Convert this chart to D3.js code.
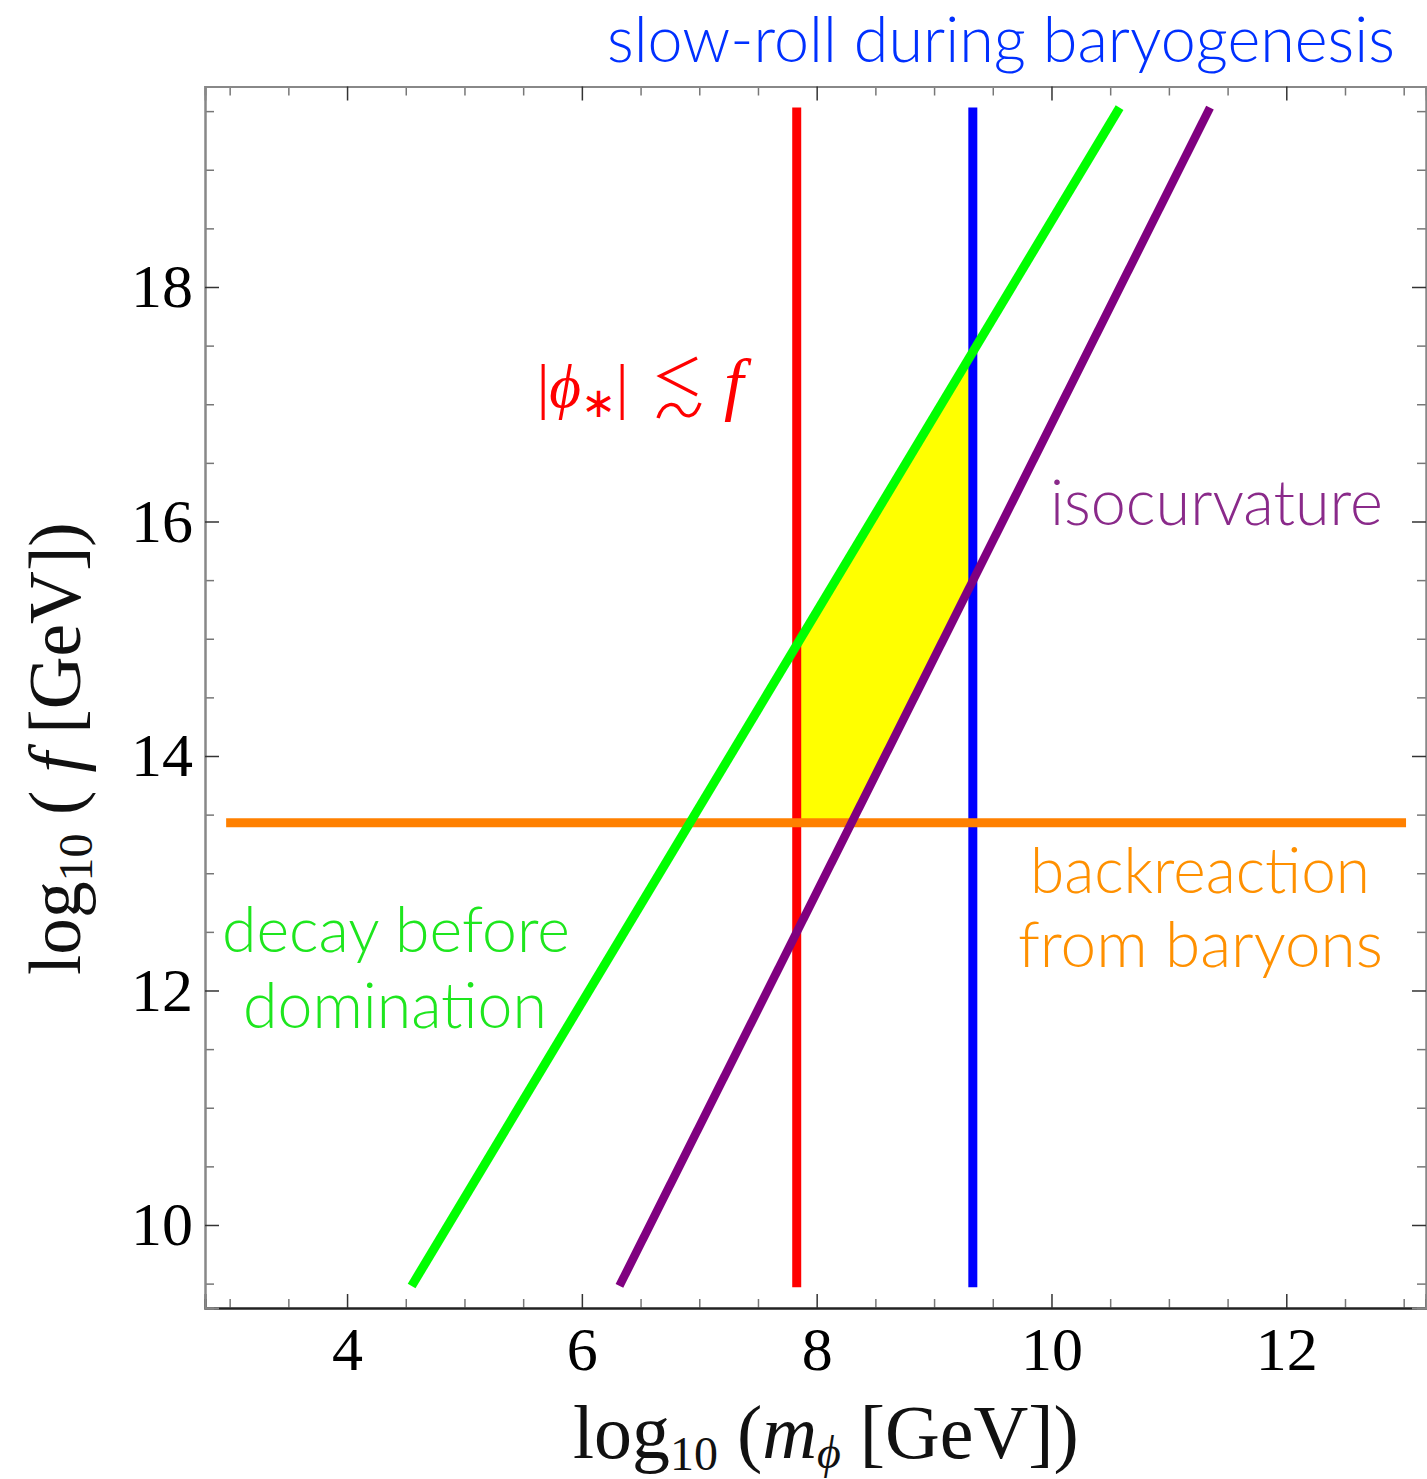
<!DOCTYPE html>
<html>
<head>
<meta charset="utf-8">
<script src="https://cdn.jsdelivr.net/npm/d3@7"></script>
<style>
  body { margin: 0; background: #fff; }
</style>
</head>
<body>
<script>
const width = 1427;
const height = 1479;

// plot frame, in data units
const xDomain = [2.79, 13.19];
const yDomain = [9.292, 19.71];

const xMajor = [4, 6, 8, 10, 12];
const yMajor = [10, 12, 14, 16, 18];
const xMinor = [3, 3.5, 4.5, 5, 5.5, 6.5, 7, 7.5, 8.5, 9, 9.5, 10.5, 11, 11.5, 12.5, 13];
const yMinor = [9.5, 10.5, 11, 11.5, 12.5, 13, 13.5, 14.5, 15, 15.5, 16.5, 17, 17.5, 18.5, 19, 19.5];

// constraint lines
const redX = 7.83;          // |phi_*| <~ f
const blueX = 9.33;         // slow-roll during baryogenesis
const verticalY = [9.47, 19.53];
const orangeY = 13.43;      // backreaction from baryons
const orangeX = [2.97, 13.02];
const greenLine = [[4.55, 9.48], [10.58, 19.53]];   // decay before domination
const purpleLine = [[6.32, 9.48], [11.35, 19.53]];  // isocurvature

const svg = d3.select("body")
    .append("svg")
    .attr("width", width)
    .attr("height", height);

const x = d3.scaleLinear().domain(xDomain).range([205, 1426]);
const y = d3.scaleLinear().domain(yDomain).range([1308, 86.5]);

const serif = "'Liberation Serif', 'Times New Roman', serif";
const sans = "Lato, 'Open Sans', sans-serif";

// line helpers
const lineAt = (pts, xv) => {
    const [[x1, y1], [x2, y2]] = pts;
    return y1 + (y2 - y1) * (xv - x1) / (x2 - x1);
};
const xAt = (pts, yv) => {
    const [[x1, y1], [x2, y2]] = pts;
    return x1 + (x2 - x1) * (yv - y1) / (y2 - y1);
};

// allowed region (yellow)
const region = [
    [redX, orangeY],
    [redX, lineAt(greenLine, redX)],
    [blueX, lineAt(greenLine, blueX)],
    [blueX, lineAt(purpleLine, blueX)],
    [xAt(purpleLine, orangeY), orangeY]
];
const line = d3.line().x(d => x(d[0])).y(d => y(d[1]));

svg.append("path")
    .attr("d", line(region) + "Z")
    .attr("fill", "#ffff00");

// frame + ticks
function drawAxis(axisFn, scale, major, minor, transform, withLabels, domainColor) {
    const g = svg.append("g").attr("transform", transform);
    g.call(axisFn(scale).tickValues(minor).tickSize(-9).tickFormat(""));
    g.selectAll(".tick line").attr("stroke", "#777").attr("stroke-width", 1.5);
    const g2 = svg.append("g").attr("transform", transform);
    g2.call(axisFn(scale).tickValues(major).tickSize(-14)
        .tickPadding(axisFn === d3.axisBottom ? 18 : 12)
        .tickFormat(withLabels ? d3.format("d") : ""));
    g2.selectAll(".tick line").attr("stroke", "#333").attr("stroke-width", 1.5);
    g2.selectAll("text")
        .attr("font-family", serif)
        .attr("font-size", 62)
        .attr("fill", "#000");
    [g, g2].forEach(s => s.select(".domain").attr("stroke", domainColor).attr("stroke-width", 2));
}
drawAxis(d3.axisBottom, x, xMajor, xMinor, "translate(0,1308)", true, "#222");
drawAxis(d3.axisTop, x, xMajor, xMinor, "translate(0,86.5)", false, "#888");
drawAxis(d3.axisLeft, y, yMajor, yMinor, "translate(205,0)", true, "#888");
drawAxis(d3.axisRight, y, yMajor, yMinor, "translate(1426,0)", false, "#888");

// constraint lines
const seg = (pts, color, w) => svg.append("path")
    .attr("d", line(pts))
    .attr("stroke", color)
    .attr("stroke-width", w)
    .attr("fill", "none");

seg([[redX, verticalY[0]], [redX, verticalY[1]]], "#ff0000", 9);
seg([[blueX, verticalY[0]], [blueX, verticalY[1]]], "#0000ff", 9);
seg([[orangeX[0], orangeY], [orangeX[1], orangeY]], "#ff8000", 9);
seg(greenLine, "#00ff00", 9);
seg(purpleLine, "#800080", 8.5);

// fit text to a given ink width
function fit(t, x0, x1) {
    const w = t.node().getBBox().width;
    const fs = parseFloat(t.attr("font-size"));
    t.attr("font-size", fs * (x1 - x0) / w);
    const b = t.node().getBBox();
    t.attr("x", +t.attr("x") + (x0 - b.x));
    return t;
}

function label(txt, x0, x1, base, color) {
    const t = svg.append("text")
        .attr("x", x0).attr("y", base)
        .attr("font-family", sans)
        .attr("font-weight", 300)
        .attr("font-size", 52)
        .attr("fill", color)
        .text(txt);
    fit(t, x0, x1);
}

label("slow-roll during baryogenesis", 607, 1395, 62, "#0030ff");
label("isocurvature", 1050, 1383, 525, "#8a2a8a");
label("backreaction", 1030, 1370, 893, "#ff9000");
label("from baryons", 1018, 1383, 967, "#ff9000");
label("decay before", 222, 570, 952, "#1ee61e");
label("domination", 243, 547, 1028, "#1ee61e");

// |phi_*| <~ f
const red = "#ff0000";
const m = svg.append("text")
    .attr("x", 537).attr("y", 407)
    .attr("font-family", serif)
    .attr("font-size", 62)
    .attr("fill", red);
m.append("tspan").text("|");
m.append("tspan").attr("font-style", "italic").text("ϕ");
m.append("tspan").attr("font-size", 42).attr("dy", 10).text("∗");
m.append("tspan").attr("dy", -10).text("|");
fit(m, 537, 628);
// "less than or similar" drawn as stacked < and ~
svg.append("path")
    .attr("d", "M697,358 L660,376 L697,395")
    .attr("fill", "none").attr("stroke", red).attr("stroke-width", 3.2);
svg.append("path")
    .attr("d", "M658,418 C664,400 676,403 680,410 C684,417 694,421 700,403")
    .attr("fill", "none").attr("stroke", red).attr("stroke-width", 3.4);
svg.append("text")
    .attr("x", 724).attr("y", 407)
    .attr("font-family", serif)
    .attr("font-style", "italic")
    .attr("font-size", 70)
    .attr("fill", red)
    .text("f");

// axis titles
const xt = svg.append("text")
    .attr("x", 573).attr("y", 1458)
    .attr("font-family", serif)
    .attr("font-size", 70)
    .attr("fill", "#111");
xt.append("tspan").text("log");
xt.append("tspan").attr("font-size", 48).attr("dy", 12).text("10");
xt.append("tspan").attr("dy", -12).text(" (");
xt.append("tspan").attr("font-style", "italic").text("m");
xt.append("tspan").attr("font-style", "italic").attr("font-size", 46).attr("dy", 10).text("ϕ");
xt.append("tspan").attr("dy", -10).text(" [GeV])");
fit(xt, 573, 1085);

const yg = svg.append("g").attr("transform", "translate(80,975) rotate(-90)");
const yt = yg.append("text")
    .attr("x", 0).attr("y", 0)
    .attr("font-family", serif)
    .attr("font-size", 70)
    .attr("fill", "#111");
yt.append("tspan").text("log");
yt.append("tspan").attr("font-size", 48).attr("dy", 12).text("10");
yt.append("tspan").attr("dy", -12).text(" ( ");
yt.append("tspan").attr("font-style", "italic").text("f");
yt.append("tspan").text(" [GeV])");
fit(yt, 0, 455);
</script>
</body>
</html>
